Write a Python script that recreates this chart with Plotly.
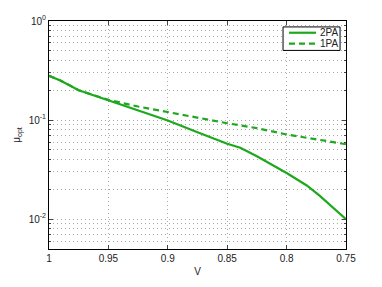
import plotly.graph_objects as go

V_2pa = [1.0, 0.99, 0.975, 0.95, 0.925, 0.9, 0.875, 0.85, 0.839, 0.825, 0.8, 0.783, 0.772, 0.75]
mu_2pa = [0.28, 0.25, 0.20, 0.158, 0.126, 0.099, 0.0753, 0.0578, 0.0527, 0.0432, 0.0292, 0.0219, 0.0172, 0.0100]

V_1pa = [1.0, 0.99, 0.975, 0.95, 0.925, 0.9, 0.875, 0.85, 0.825, 0.8, 0.775, 0.75]
mu_1pa = [0.28, 0.25, 0.20, 0.16, 0.137, 0.12, 0.105, 0.093, 0.083, 0.0715, 0.064, 0.057]

x_ticks = [1, 0.95, 0.9, 0.85, 0.8, 0.75]
x_ticktext = ["1", "0.95", "0.9", "0.85", "0.8", "0.75"]
y_ticks = [1, 0.1, 0.01]
y_ticktext = ["10<sup>0</sup>", "10<sup>-1</sup>", "10<sup>-2</sup>"]
legend_names = ["2PA", "1PA"]

green = "rgb(30,168,30)"
dash_style = "6px,4px"

fig = go.Figure()
fig.add_trace(go.Scatter(x=V_2pa, y=mu_2pa, mode="lines", name=legend_names[0],
                         line=dict(color=green, width=2.2), showlegend=False))
fig.add_trace(go.Scatter(x=V_1pa, y=mu_1pa, mode="lines", name=legend_names[1],
                         line=dict(color=green, width=2.2, dash=dash_style), showlegend=False))

# compact legend box (MATLAB style) in paper coordinates
fig.add_shape(type="rect", xref="paper", yref="paper", x0=0.788, x1=0.980, y0=0.871, y1=0.974,
              line=dict(color="black", width=1), fillcolor="white", layer="above")
fig.add_shape(type="line", xref="paper", yref="paper", x0=0.808, x1=0.899, y0=0.9485, y1=0.9485,
              line=dict(color=green, width=2.2), layer="above")
fig.add_shape(type="line", xref="paper", yref="paper", x0=0.808, x1=0.899, y0=0.901, y1=0.901,
              line=dict(color=green, width=2.2, dash=dash_style), layer="above")
for name, yy in zip(legend_names, [0.9485, 0.901]):
    fig.add_annotation(xref="paper", yref="paper", x=0.906, y=yy, text=name, showarrow=False,
                       xanchor="left", yanchor="middle", font=dict(size=10, color="#222"))

dots = "1px,3px"
grid = dict(gridcolor="#a8a8a8", griddash=dots, gridwidth=1)
fig.update_layout(
    width=382, height=287,
    margin=dict(l=49, r=36, t=21, b=33),
    paper_bgcolor="white", plot_bgcolor="white",
    font=dict(family="Liberation Sans, Arial, sans-serif", size=10, color="#222"),
    showlegend=False,
    xaxis=dict(range=[1, 0.75], tickvals=x_ticks, ticktext=x_ticktext,
               showline=True, linecolor="black", linewidth=1, mirror="ticks",
               ticks="inside", ticklen=4, zeroline=False,
               title=dict(text="V", standoff=4, font=dict(size=10)), **grid),
    yaxis=dict(type="log", range=[-2.301, 0], tickvals=y_ticks, ticktext=y_ticktext,
               showline=True, linecolor="black", linewidth=1, mirror="ticks",
               ticks="inside", ticklen=4, zeroline=False,
               minor=dict(showgrid=True, gridcolor="#a8a8a8", griddash=dots,
                          ticks="inside", ticklen=2, dtick="D1"),
               title=dict(text="μ<sub>opt</sub>", standoff=6, font=dict(size=10)), **grid),
)

fig.write_html("out.html", config={"displayModeBar": False},
               post_script="document.body.style.margin='0';")
